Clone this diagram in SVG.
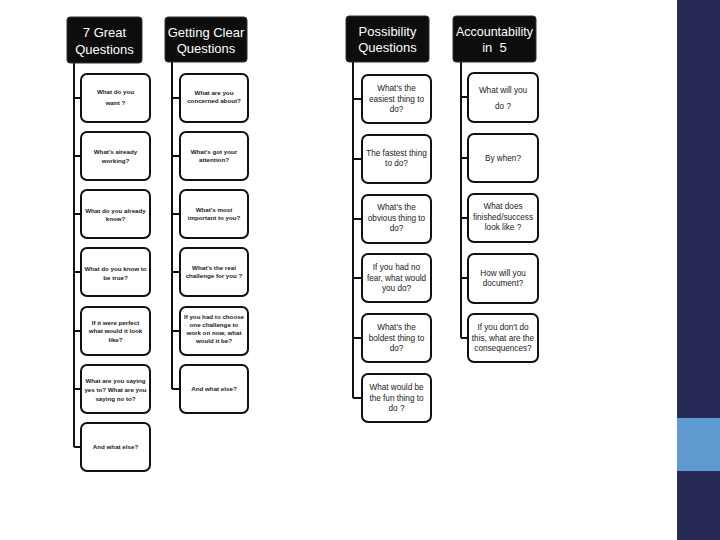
<svg xmlns="http://www.w3.org/2000/svg" width="720" height="540" viewBox="0 0 720 540">
<style>
.hdr{fill:#0d0d0d;stroke:#333;stroke-width:1}
.ht{font-family:"Liberation Sans",Arial,sans-serif;font-size:13px;fill:#fff;text-anchor:middle}
.box{fill:#fff;stroke:#111;stroke-width:2}
.s{font-family:"Liberation Sans",Arial,sans-serif;font-size:6.2px;font-weight:bold;fill:#1a1a1a;text-anchor:middle}
.m{font-family:"Liberation Sans",Arial,sans-serif;font-size:8.2px;fill:#1a1a1a;text-anchor:middle}
.ln{stroke:#111;stroke-width:2;fill:none}
</style>
<rect width="720" height="540" fill="#fff"/>
<g id="sidebar">
<rect x="677" y="0" width="43" height="540" fill="#262a55"/>
<rect x="677" y="418" width="43" height="53" fill="#5f9bd0"/>
</g>
<g id="connectors">
<path class="ln" d="M74 62V447M74 98H81M74 156H81M74 214H81M74 272H81M74 331H81M74 389H81M74 447H81"/>
<path class="ln" d="M172 62V389M172 98H180M172 156H180M172 214H180M172 272H180M172 331H180M172 389H180"/>
<path class="ln" d="M353 62V398M353 99H362M353 159H362M353 219H362M353 278H362M353 338H362M353 398H362"/>
<path class="ln" d="M461 62V338M461 97H468M461 158H468M461 218H468M461 278H468M461 338H468"/>
</g>
<g id="h1"><rect class="hdr" x="67" y="17" width="75" height="46" rx="3"/><text class="ht" x="104.5" y="37" font-size="14">7 Great</text><text class="ht" x="104.5" y="54" font-size="14">Questions</text></g>
<g id="h2"><rect class="hdr" x="165" y="17" width="82" height="45" rx="3"/><text class="ht" x="206" y="37">Getting Clear</text><text class="ht" x="206" y="53">Questions</text></g>
<g id="h3"><rect class="hdr" x="346" y="16" width="83" height="46" rx="3"/><text class="ht" x="387.5" y="36">Possibility</text><text class="ht" x="387.5" y="52">Questions</text></g>
<g id="h4"><rect class="hdr" x="453" y="16" width="83" height="46" rx="3"/><text class="ht" x="494.5" y="36" textLength="77" lengthAdjust="spacingAndGlyphs">Accountability</text><text class="ht" x="494.5" y="52" xml:space="preserve">in  5</text></g>

<g id="c1n1"><rect class="box" x="81" y="74" width="69" height="48" rx="6"/><text class="s" x="115.5" y="94">What do you</text><text class="s" x="115.5" y="105">want ?</text></g>
<g id="c1n2"><rect class="box" x="81" y="132" width="69" height="48" rx="6"/><text class="s" x="115.5" y="154">What's already</text><text class="s" x="115.5" y="163">working?</text></g>
<g id="c1n3"><rect class="box" x="81" y="190" width="69" height="48" rx="6"/><text class="s" x="115.5" y="213">What do you already</text><text class="s" x="115.5" y="221">know?</text></g>
<g id="c1n4"><rect class="box" x="81" y="248" width="69" height="48" rx="6"/><text class="s" x="115.5" y="271">What do you know to</text><text class="s" x="115.5" y="280">be true?</text></g>
<g id="c1n5"><rect class="box" x="81" y="307" width="69" height="48" rx="6"/><text class="s" x="115.5" y="325">If it were perfect</text><text class="s" x="115.5" y="333">what would it look</text><text class="s" x="115.5" y="342">like?</text></g>
<g id="c1n6"><rect class="box" x="81" y="365" width="69" height="48" rx="6"/><text class="s" x="115.5" y="383">What are you saying</text><text class="s" x="115.5" y="392">yes to? What are you</text><text class="s" x="115.5" y="401">saying no to?</text></g>
<g id="c1n7"><rect class="box" x="81" y="423" width="69" height="48" rx="6"/><text class="s" x="115.5" y="449">And what else?</text></g>

<g id="c2n1"><rect class="box" x="180" y="74" width="68" height="48" rx="6"/><text class="s" x="214" y="95">What are you</text><text class="s" x="214" y="103">concerned about?</text></g>
<g id="c2n2"><rect class="box" x="180" y="132" width="68" height="48" rx="6"/><text class="s" x="214" y="154">What's got your</text><text class="s" x="214" y="162">attention?</text></g>
<g id="c2n3"><rect class="box" x="180" y="190" width="68" height="48" rx="6"/><text class="s" x="214" y="212">What's most</text><text class="s" x="214" y="220">important to you?</text></g>
<g id="c2n4"><rect class="box" x="180" y="248" width="68" height="48" rx="6"/><text class="s" x="214" y="270">What's the real</text><text class="s" x="214" y="278">challenge for you ?</text></g>
<g id="c2n5"><rect class="box" x="180" y="307" width="68" height="48" rx="6"/><text class="s" x="214" y="319">If you had to choose</text><text class="s" x="214" y="327">one challenge to</text><text class="s" x="214" y="335">work on now, what</text><text class="s" x="214" y="343">would it be?</text></g>
<g id="c2n6"><rect class="box" x="180" y="365" width="68" height="48" rx="6"/><text class="s" x="214" y="391">And what else?</text></g>

<g id="c3n1"><rect class="box" x="362" y="75" width="69" height="48" rx="6"/><text class="m" x="396.5" y="91">What's the</text><text class="m" x="396.5" y="101.5">easiest thing to</text><text class="m" x="396.5" y="112">do?</text></g>
<g id="c3n2"><rect class="box" x="362" y="135" width="69" height="48" rx="6"/><text class="m" x="396.5" y="156">The fastest thing</text><text class="m" x="396.5" y="166">to do?</text></g>
<g id="c3n3"><rect class="box" x="362" y="195" width="69" height="48" rx="6"/><text class="m" x="396.5" y="210">What's the</text><text class="m" x="396.5" y="220.5">obvious thing to</text><text class="m" x="396.5" y="231">do?</text></g>
<g id="c3n4"><rect class="box" x="362" y="254" width="69" height="48" rx="6"/><text class="m" x="396.5" y="270">If you had no</text><text class="m" x="396.5" y="280.5">fear, what would</text><text class="m" x="396.5" y="291">you do?</text></g>
<g id="c3n5"><rect class="box" x="362" y="314" width="69" height="48" rx="6"/><text class="m" x="396.5" y="330">What's the</text><text class="m" x="396.5" y="340.5">boldest thing to</text><text class="m" x="396.5" y="351">do?</text></g>
<g id="c3n6"><rect class="box" x="362" y="374" width="69" height="48" rx="6"/><text class="m" x="396.5" y="390">What would be</text><text class="m" x="396.5" y="400.5">the fun thing to</text><text class="m" x="396.5" y="411">do ?</text></g>

<g id="c4n1"><rect class="box" x="468" y="73" width="70" height="49" rx="6"/><text class="m" x="503" y="93">What will you</text><text class="m" x="503" y="109">do ?</text></g>
<g id="c4n2"><rect class="box" x="468" y="134" width="70" height="48" rx="6"/><text class="m" x="503" y="161">By when?</text></g>
<g id="c4n3"><rect class="box" x="468" y="194" width="70" height="48" rx="6"/><text class="m" x="503" y="209">What does</text><text class="m" x="503" y="219.5">finished/success</text><text class="m" x="503" y="230">look like ?</text></g>
<g id="c4n4"><rect class="box" x="468" y="254" width="70" height="49" rx="6"/><text class="m" x="503" y="276">How will you</text><text class="m" x="503" y="286">document?</text></g>
<g id="c4n5"><rect class="box" x="468" y="314" width="70" height="48" rx="6"/><text class="m" x="503" y="330">If you don't do</text><text class="m" x="503" y="340.5">this, what are the</text><text class="m" x="503" y="351">consequences?</text></g>
</svg>
